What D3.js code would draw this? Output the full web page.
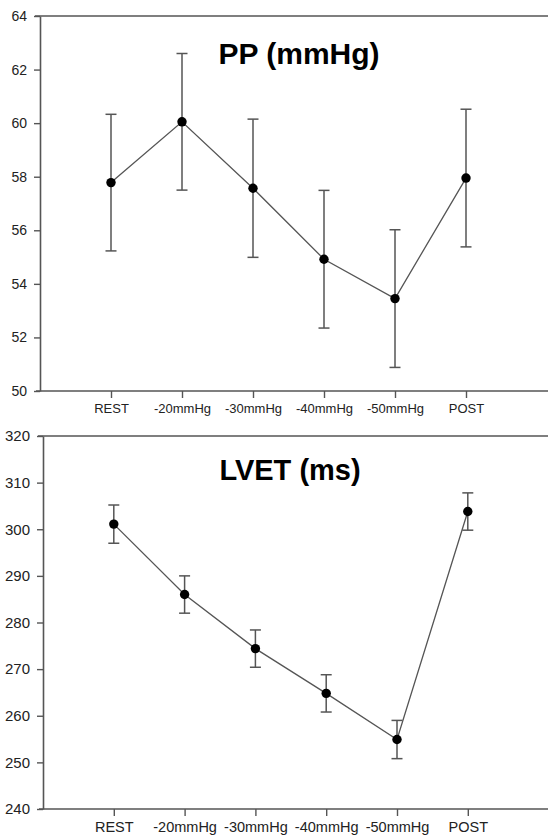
<!DOCTYPE html>
<html>
<head>
<meta charset="utf-8">
<script src="https://cdn.jsdelivr.net/npm/d3@7"></script>
<style>
  body { margin: 0; background: #fff; }
  svg { display: block; font-family: "Liberation Sans", Arial, sans-serif; }
</style>
</head>
<body>
<svg width="548" height="837"></svg>
<script>
const categories = ['REST', '-20mmHg', '-30mmHg', '-40mmHg', '-50mmHg', 'POST'];

const ppMean = [57.78, 60.05, 57.57, 54.92, 53.45, 57.95];
const ppErr = [2.55, 2.55, 2.58, 2.57, 2.57, 2.57];
const ppTicks = [50, 52, 54, 56, 58, 60, 62, 64];

const lvetMean = [301.1, 286.0, 274.4, 264.8, 254.9, 303.8];
const lvetErr = [4.1, 4.0, 4.0, 4.0, 4.1, 4.0];
const lvetTicks = [240, 250, 260, 270, 280, 290, 300, 310, 320];

let svg = d3.select('svg');

drawPanel({
  title: 'PP (mmHg)', titleX: 299, titleY: 64, titleSize: 30,
  mean: ppMean, err: ppErr, ticks: ppTicks,
  left: 40, top: 16, bottom: 391, step: 71,
  yFont: 14, xFont: 13
});

drawPanel({
  title: 'LVET (ms)', titleX: 290, titleY: 480, titleSize: 29,
  mean: lvetMean, err: lvetErr, ticks: lvetTicks,
  left: 43, top: 436, bottom: 809, step: 70.8,
  yFont: 15, xFont: 14.5
});

function drawPanel(c) {
  let g = svg.append('g');

  let x = d3.scalePoint()
            .domain(categories)
            .range([c.left, c.left + c.step * 7])
            .padding(1);

  let y = d3.scaleLinear()
            .domain(d3.extent(c.ticks))
            .range([c.bottom, c.top]);

  // frame: top border + x axis baseline run to the edge
  g.append('line')
    .attr('x1', c.left - 5).attr('x2', 548)
    .attr('y1', c.top).attr('y2', c.top)
    .attr('stroke', '#555').attr('stroke-width', 1.6);

  g.append('line')
    .attr('x1', c.left - 4).attr('x2', 548)
    .attr('y1', c.bottom).attr('y2', c.bottom)
    .attr('stroke', '#555').attr('stroke-width', 1.6);

  let yAxis = g.append('g')
    .attr('transform', `translate(${c.left},0)`)
    .call(d3.axisLeft(y).tickValues(c.ticks).tickSize(6).tickPadding(7).tickSizeOuter(0));
  yAxis.select('.domain').attr('stroke', '#555').attr('stroke-width', 1.6);
  yAxis.selectAll('.tick line').attr('stroke', '#555').attr('stroke-width', 1.4);
  yAxis.selectAll('.tick text')
    .attr('fill', '#222')
    .style('font-size', c.yFont + 'px');

  let xAxis = g.append('g')
    .attr('transform', `translate(0,${c.bottom})`)
    .call(d3.axisBottom(x).tickSize(7).tickPadding(6).tickSizeOuter(0));
  xAxis.select('.domain').remove();
  xAxis.selectAll('.tick line').attr('stroke', '#555').attr('stroke-width', 1.4);
  xAxis.selectAll('.tick text')
    .attr('fill', '#222')
    .style('font-size', c.xFont + 'px');

  let pts = categories.map((k, i) => ({ k: k, m: c.mean[i], e: c.err[i] }));

  // error bars
  let eb = g.selectAll('.err')
    .data(pts)
    .enter()
    .append('g')
      .classed('err', true)
      .attr('stroke', '#555')
      .attr('stroke-width', 1.5);

  eb.append('line')
    .attr('x1', d => x(d.k)).attr('x2', d => x(d.k))
    .attr('y1', d => y(d.m - d.e)).attr('y2', d => y(d.m + d.e));
  eb.append('line')
    .attr('x1', d => x(d.k) - 5.5).attr('x2', d => x(d.k) + 5.5)
    .attr('y1', d => y(d.m + d.e)).attr('y2', d => y(d.m + d.e));
  eb.append('line')
    .attr('x1', d => x(d.k) - 5.5).attr('x2', d => x(d.k) + 5.5)
    .attr('y1', d => y(d.m - d.e)).attr('y2', d => y(d.m - d.e));

  let line = d3.line()
               .x(d => x(d.k))
               .y(d => y(d.m));

  g.append('path')
    .datum(pts)
    .attr('d', line)
    .attr('fill', 'none')
    .attr('stroke', '#555')
    .attr('stroke-width', 1.3);

  g.selectAll('.dot')
    .data(pts)
    .enter()
    .append('circle')
      .classed('dot', true)
      .attr('cx', d => x(d.k))
      .attr('cy', d => y(d.m))
      .attr('r', 4.7)
      .attr('fill', '#000');

  g.append('text')
    .attr('x', c.titleX)
    .attr('y', c.titleY)
    .attr('text-anchor', 'middle')
    .style('font-size', c.titleSize + 'px')
    .style('font-weight', 'bold')
    .text(c.title);
}
</script>
</body>
</html>
